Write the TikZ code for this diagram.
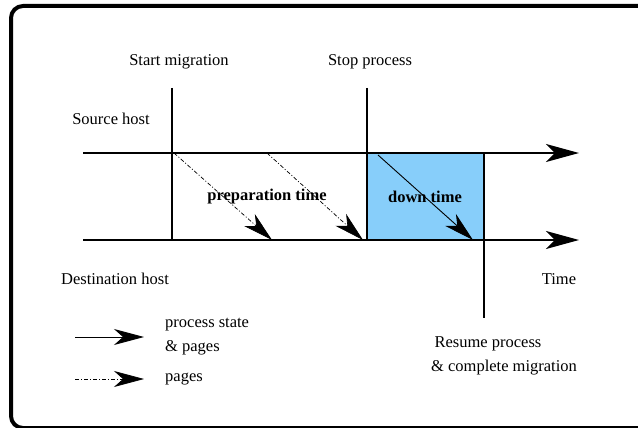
\documentclass[tikz,border=0pt]{standalone}
\usepackage{fontspec}
\setmainfont{Liberation Serif}
\usetikzlibrary{arrows.meta}
\definecolor{downblue}{HTML}{87CEFA}
\begin{document}
\begin{tikzpicture}[x=1pt,y=-1pt,
  lbl/.style={font=\fontsize{16.5}{19}\selectfont, inner sep=0pt},
  bold/.style={lbl, font=\fontsize{16.5}{19}\selectfont\bfseries},
  axis/.style={line width=2pt, -{Stealth[length=33pt,width=18pt,inset=9pt]}},
  mark line/.style={line width=2pt},
  msg/.style={line width=0.9pt, -{Stealth[length=30pt,width=16pt,inset=9pt]}},
  pagemsg/.style={msg, line width=0.7pt, dash pattern=on 4pt off 2pt on 1pt off 2pt}]
\useasboundingbox (0,0) rectangle (638,428);
% outer frame
\draw[line width=4pt, rounded corners=12pt] (11,6) rectangle (660,428);

% event coordinates
\coordinate (sm top) at (172,88);
\coordinate (sm bot) at (172,240);
\coordinate (sp top) at (367,88);
\coordinate (sp bot) at (367,240);
\coordinate (rs top) at (484,153);
\coordinate (rs bot) at (484,318);
\coordinate (src start) at (83,153);
\coordinate (src end) at (579,153);
\coordinate (dst start) at (83,240);
\coordinate (dst end) at (579,240);

% down time box
\fill[downblue] (367,153) rectangle (484,240);

% timelines
\draw[axis] (src start) -- (src end);
\draw[axis] (dst start) -- (dst end);

% event markers
\draw[mark line] (sm top) -- (sm bot);
\draw[mark line] (sp top) -- (sp bot);
\draw[mark line] (rs top) -- (rs bot);
\draw[mark line] (367,153) rectangle (484,240);

% page and state transfers
\coordinate (p1a) at (174,153);
\coordinate (p1b) at (272,240);
\coordinate (p2a) at (267,153);
\coordinate (p2b) at (363,240);
\coordinate (s1a) at (378,155);
\coordinate (s1b) at (473,240);
\draw[pagemsg] (p1a) -- (p1b);
\draw[pagemsg] (p2a) -- (p2b);
\draw[msg] (s1a) -- (s1b);

% labels
\node[lbl] (startlbl) at (179,62) {Start migration};
\node[lbl] (stoplbl) at (370,62) {Stop process};
\node[lbl] (srclbl) at (111,119) {Source host};
\node[lbl] (dstlbl) at (115,279) {Destination host};
\node[lbl] (timelbl) at (559,279) {Time};
\node[bold] (prep) at (267,197) {preparation time};
\node[bold] (down) at (425,197) {down time};
\node[lbl] (resume1) at (488,344) {Resume process};
\node[lbl] (resume2) at (504,368) {\& complete migration};

% legend
\coordinate (lg1a) at (75,337);
\coordinate (lg1b) at (144,337);
\coordinate (lg2a) at (75,379);
\coordinate (lg2b) at (144,379);
\draw[msg] (lg1a) -- (lg1b);
\draw[pagemsg] (lg2a) -- (lg2b);
\node[lbl, anchor=west] (lgtext1) at (165,325) {process state};
\node[lbl, anchor=west] (lgtext2) at (165,348) {\& pages};
\node[lbl, anchor=west] (lgtext3) at (165,379) {pages};
\end{tikzpicture}
\end{document}
